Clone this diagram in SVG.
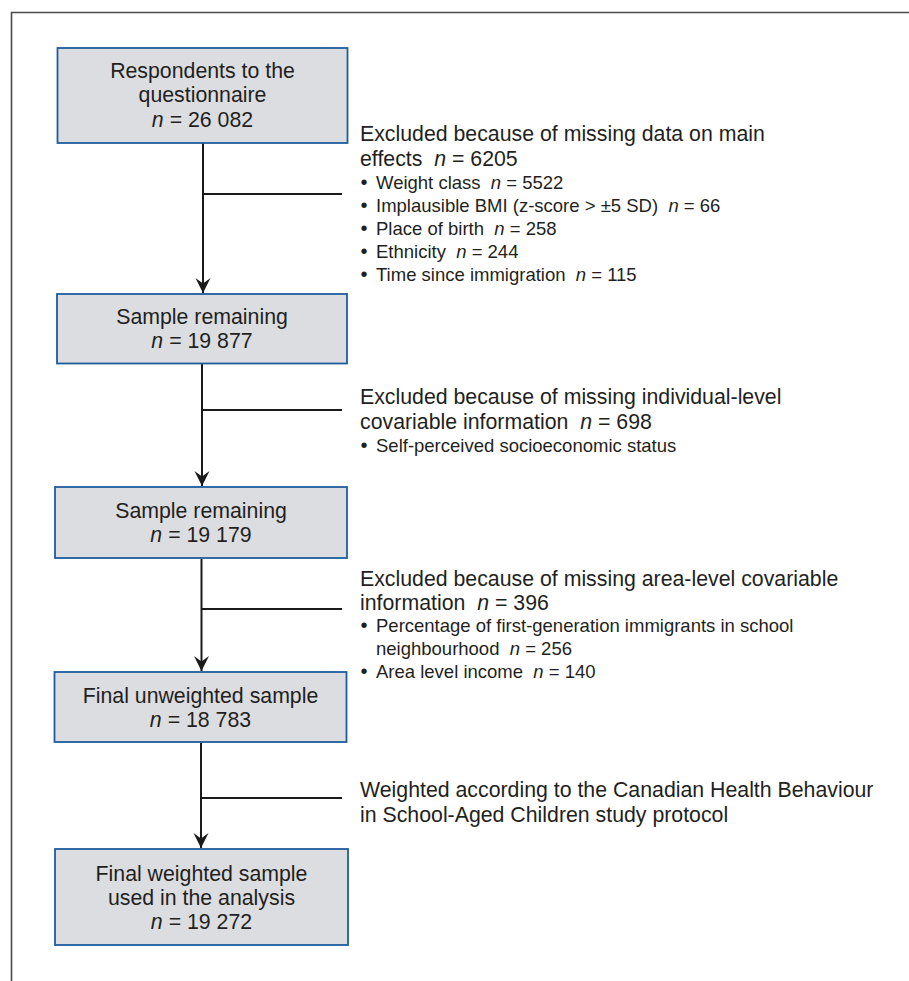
<svg xmlns="http://www.w3.org/2000/svg" width="909" height="981" viewBox="0 0 909 981">
<style>
.frame{fill:none;stroke:#4a4a4a;stroke-width:1.6}
.box{fill:#dcdde0;stroke:#1f5c9e;stroke-width:1.8}
.ln{fill:none;stroke:#1a1a1a;stroke-width:2}
.t{font-family:"Liberation Sans",Arial,Helvetica,sans-serif;font-size:21.3px;fill:#231f20;white-space:pre}
.c{text-anchor:middle}
.b{font-size:18.5px}
.d{font-size:20px;text-anchor:middle}
.i{font-style:italic}
</style>
<defs>
<marker id="ah" markerUnits="userSpaceOnUse" markerWidth="18" markerHeight="18" viewBox="-16 -9 18 18" refX="0" refY="0" orient="auto">
<path d="M0,0 L-15,-7.5 L-9.5,0 L-15,7.5 Z" fill="#1a1a1a"/>
</marker>
</defs>
<rect width="909" height="981" fill="#ffffff"/>
<path class="frame" d="M11.5,981 L11.5,12.5 L909,12.5"/>

<g id="connectors">
<line class="ln" x1="203" y1="143" x2="203" y2="293" marker-end="url(#ah)"/>
<line class="ln" x1="203" y1="194" x2="342" y2="194"/>
<line class="ln" x1="202" y1="364" x2="202" y2="486" marker-end="url(#ah)"/>
<line class="ln" x1="202" y1="410" x2="342" y2="410"/>
<line class="ln" x1="201.5" y1="559" x2="201.5" y2="671" marker-end="url(#ah)"/>
<line class="ln" x1="201.5" y1="609" x2="342" y2="609"/>
<line class="ln" x1="201" y1="743" x2="201" y2="848" marker-end="url(#ah)"/>
<line class="ln" x1="201" y1="798" x2="342" y2="798"/>
</g>

<g id="n1">
<rect class="box" x="57.5" y="48" width="290" height="95"/>
<text class="t c" x="202.5" y="78">Respondents to the</text>
<text class="t c" x="202.5" y="102">questionnaire</text>
<text class="t c" x="202.5" y="126.5"><tspan class="i">n</tspan> = 26 082</text>
</g>

<g id="n2">
<rect class="box" x="57" y="294" width="290" height="69.5"/>
<text class="t c" x="202" y="324">Sample remaining</text>
<text class="t c" x="202" y="348"><tspan class="i">n</tspan> = 19 877</text>
</g>

<g id="n3">
<rect class="box" x="55" y="487" width="292" height="71"/>
<text class="t c" x="201" y="518">Sample remaining</text>
<text class="t c" x="201" y="542"><tspan class="i">n</tspan> = 19 179</text>
</g>

<g id="n4">
<rect class="box" x="54.5" y="672" width="292" height="70"/>
<text class="t c" x="200.5" y="703">Final unweighted sample</text>
<text class="t c" x="200.5" y="727"><tspan class="i">n</tspan> = 18 783</text>
</g>

<g id="n5">
<rect class="box" x="55" y="849" width="293" height="96"/>
<text class="t c" x="201.5" y="881">Final weighted sample</text>
<text class="t c" x="201.5" y="905">used in the analysis</text>
<text class="t c" x="201.5" y="929"><tspan class="i">n</tspan> = 19 272</text>
</g>

<g id="e1">
<text class="t" x="360" y="140.5">Excluded because of missing data on main</text>
<text class="t" x="360" y="166">effects  <tspan class="i">n</tspan> = 6205</text>
<text class="t d" x="364" y="189">•</text><text class="t b" x="376" y="189">Weight class  <tspan class="i">n</tspan> = 5522</text>
<text class="t d" x="364" y="212">•</text><text class="t b" x="376" y="212">Implausible BMI (z-score &gt; ±5 SD)  <tspan class="i">n</tspan> = 66</text>
<text class="t d" x="364" y="235">•</text><text class="t b" x="376" y="235">Place of birth  <tspan class="i">n</tspan> = 258</text>
<text class="t d" x="364" y="258">•</text><text class="t b" x="376" y="258">Ethnicity  <tspan class="i">n</tspan> = 244</text>
<text class="t d" x="364" y="281">•</text><text class="t b" x="376" y="281">Time since immigration  <tspan class="i">n</tspan> = 115</text>
</g>

<g id="e2">
<text class="t" x="360" y="404">Excluded because of missing individual-level</text>
<text class="t" x="360" y="429">covariable information  <tspan class="i">n</tspan> = 698</text>
<text class="t d" x="364" y="452">•</text><text class="t b" x="376" y="452">Self-perceived socioeconomic status</text>
</g>

<g id="e3">
<text class="t" x="360" y="586">Excluded because of missing area-level covariable</text>
<text class="t" x="360" y="610">information  <tspan class="i">n</tspan> = 396</text>
<text class="t d" x="364" y="632">•</text><text class="t b" x="376" y="632">Percentage of first-generation immigrants in school</text>
<text class="t b" x="376" y="655">neighbourhood  <tspan class="i">n</tspan> = 256</text>
<text class="t d" x="364" y="678">•</text><text class="t b" x="376" y="678">Area level income  <tspan class="i">n</tspan> = 140</text>
</g>

<g id="e4">
<text class="t" x="360" y="797">Weighted according to the Canadian Health Behaviour</text>
<text class="t" x="360" y="822">in School-Aged Children study protocol</text>
</g>
</svg>
